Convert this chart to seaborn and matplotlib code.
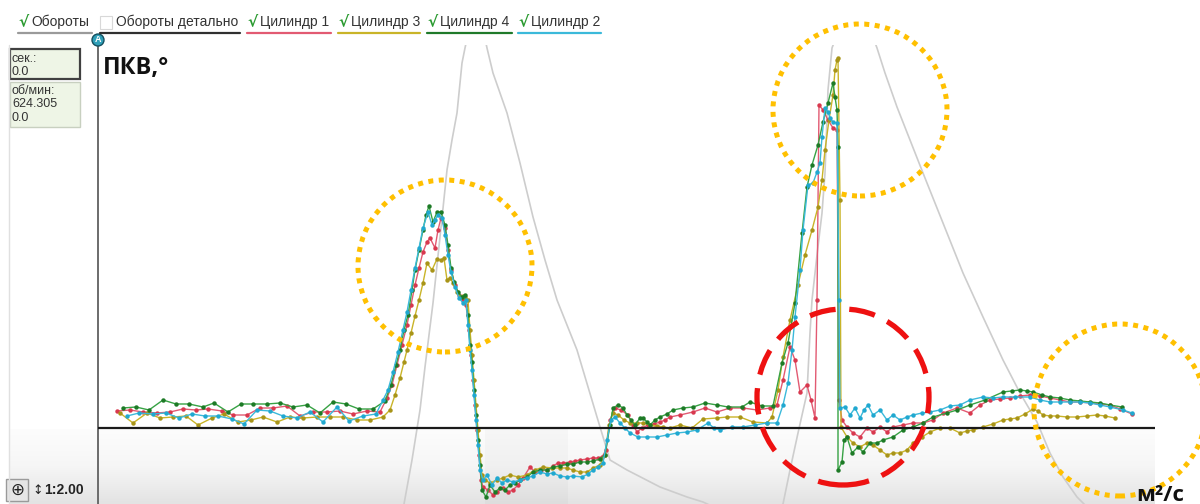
import numpy as np
import pandas as pd
import matplotlib.pyplot as plt
import seaborn as sns
from matplotlib.patches import Ellipse, Rectangle
from matplotlib.lines import Line2D
from matplotlib.colors import LinearSegmentedColormap

# ---- данные (ось X - отсчёты ПКВ, ось Y - условные единицы, 0 = базовая линия)
zel_x = [123, 136, 149, 163, 176, 189, 203, 214, 228, 241, 253, 267, 280, 293, 307, 320, 333, 346, 359, 373, 385,
         391, 396, 400, 404, 408, 412, 415, 419, 423, 426, 429, 433, 437, 441, 445, 448, 451, 454, 458, 462, 465,
         468, 470, 472, 474, 476, 478, 480, 482, 486, 490, 495, 500, 505, 510, 515, 520, 527, 533, 540, 547, 553,
         560, 567, 573, 580, 587, 593, 600, 605, 610, 613, 618, 623, 627, 631, 635, 640, 643, 647, 650, 655, 660,
         667, 673, 683, 693, 705, 717, 728, 742, 750, 762, 773, 782, 788, 795, 802, 807, 812, 818, 823, 828, 833,
         835, 837, 838, 838, 842, 844, 847, 852, 858, 863, 870, 877, 883, 893, 903, 913, 923, 933, 947, 957, 970,
         985, 1003, 1012, 1020, 1027, 1033, 1042, 1050, 1060, 1070, 1080, 1090, 1100, 1110, 1122]
zel_y = [20, 21, 18, 28, 24, 24, 21, 25, 16, 24, 24, 24, 25, 21, 23, 15, 26, 24, 19, 19, 27,
         43, 63, 78, 98, 113, 138, 158, 178, 198, 213, 222, 206, 216, 216, 203, 183, 160, 146, 136, 131, 133,
         113, 83, 66, 38, 13, -12, -37, -62, -69, -57, -64, -60, -62, -57, -55, -52, -49, -44, -42, -42, -39,
         -38, -36, -36, -34, -34, -33, -31, -27, 3, 20, 23, 20, 13, 8, 3, 10, 10, 6, 3, 8, 11,
         14, 18, 20, 21, 25, 23, 21, 21, 26, 22, 22, 65, 85, 125, 195, 241, 263, 283, 306, 325, 345,
         331, 318, 281, -42, -34, -12, -9, -25, -19, -24, -15, -15, -12, -9, -2, 1, 5, 11, 15, 18, 23,
         28, 36, 37, 38, 37, 36, 33, 31, 30, 28, 27, 26, 25, 23, 21]

kras_x = [117, 130, 143, 157, 170, 183, 196, 208, 222, 233, 247, 260, 273, 287, 300, 313, 327, 340, 353, 367, 380,
          387, 392, 397, 402, 407, 411, 415, 419, 423, 427, 430, 435, 438, 441, 445, 448, 451, 455, 459, 463, 466,
          469, 471, 473, 475, 477, 479, 481, 483, 488, 493, 497, 503, 508, 513, 518, 523, 530, 535, 541, 547, 553,
          558, 563, 570, 575, 580, 587, 593, 598, 602, 606, 610, 615, 621, 628, 633, 637, 642, 648, 654, 660, 665,
          670, 680, 693, 705, 717, 730, 743, 757, 770, 777, 783, 790, 795, 800, 807, 811, 815, 817, 819, 823, 828,
          833, 837, 839, 842, 847, 853, 860, 867, 873, 880, 887, 893, 903, 913, 923, 933, 943, 957, 970, 980, 990,
          1000, 1010, 1020, 1030, 1040, 1050, 1060, 1070, 1080, 1090, 1100, 1110, 1120, 1132]
kras_y = [17, 18, 16, 15, 16, 19, 18, 19, 17, 13, 13, 20, 20, 22, 12, 16, 16, 17, 14, 17, 16,
          30, 43, 63, 83, 103, 123, 143, 160, 176, 186, 190, 180, 198, 210, 200, 178, 158, 143, 133, 128, 123,
          98, 73, 48, 23, -2, -27, -52, -59, -62, -67, -64, -60, -64, -62, -57, -50, -39, -44, -42, -42, -38,
          -35, -35, -34, -33, -32, -31, -30, -30, -29, -22, 8, 20, 18, 13, 3, -4, 0, 3, 4, 6, 8,
          11, 13, 16, 20, 16, 20, 20, 18, 20, 23, 48, 81, 68, 36, 43, 28, 10, 128, 323, 318, 308,
          300, 298, 28, 8, 1, -5, -9, 0, -4, 1, -4, 1, 3, 5, 5, 8, 15, 20, 15, 23, 28,
          29, 30, 32, 33, 32, 30, 28, 26, 26, 25, 24, 23, 19, 14]

gol_x = [127, 139, 153, 166, 179, 192, 205, 218, 232, 244, 257, 270, 283, 297, 310, 323, 337, 349, 363, 376,
         383, 388, 393, 398, 403, 407, 411, 415, 419, 423, 428, 432, 435, 438, 442, 445, 448, 451, 455, 459, 463,
         466, 468, 470, 472, 474, 476, 478, 480, 483, 487, 492, 497, 502, 507, 513, 520, 527, 533, 540, 547, 553,
         560, 567, 573, 582, 588, 593, 598, 603, 607, 611, 615, 620, 625, 630, 638, 647, 657, 667, 677, 687, 697,
         708, 714, 720, 732, 743, 755, 767, 777, 783, 788, 792, 795, 800, 803, 808, 813, 817, 820, 822, 825, 828,
         830, 833, 837, 839, 840, 845, 850, 855, 860, 864, 868, 873, 880, 887, 893, 900, 907, 913, 922, 930, 940,
         950, 960, 970, 983, 993, 1003, 1015, 1030, 1040, 1050, 1060, 1070, 1080, 1090, 1100, 1110, 1123, 1132]
gol_y = [12, 15, 14, 15, 10, 14, 12, 12, 9, 4, 18, 17, 12, 10, 16, 6, 21, 7, 12, 14,
         28, 38, 56, 76, 98, 116, 138, 160, 180, 200, 216, 203, 208, 213, 210, 193, 173, 156, 141, 130, 125,
         128, 103, 78, 58, 33, 8, -17, -42, -52, -47, -57, -50, -55, -52, -54, -52, -50, -48, -44, -46, -45,
         -48, -49, -48, -49, -46, -42, -39, -35, -12, 8, 11, 5, 0, -5, -9, -9, -9, -7, -5, -4, -2,
         5, 0, -2, 1, 1, 3, 5, 5, 23, 45, 78, 111, 158, 198, 243, 245, 256, 265, 291, 320, 316,
         310, 306, 305, 128, 20, 21, 13, 20, 10, 18, 23, 13, 18, 8, 13, 8, 11, 13, 15, 16, 18,
         22, 23, 28, 31, 30, 31, 31, 31, 28, 26, 26, 26, 26, 25, 23, 21, 18, 15]

zhel_x = [120, 133, 147, 160, 173, 186, 198, 212, 224, 238, 251, 263, 277, 290, 303, 317, 330, 343, 357, 370, 383,
          390, 395, 400, 404, 407, 411, 415, 419, 423, 427, 432, 437, 441, 444, 447, 450, 453, 457, 460, 463, 465,
          468, 470, 472, 474, 476, 478, 480, 482, 485, 490, 497, 503, 510, 518, 527, 535, 543, 552, 560, 567, 573,
          580, 587, 593, 600, 605, 609, 613, 618, 624, 630, 637, 643, 650, 657, 663, 670, 680, 692, 703, 717, 727,
          740, 753, 767, 772, 778, 783, 790, 798, 805, 812, 818, 822, 825, 829, 833, 835, 837, 838, 840, 841, 847,
          853, 860, 867, 873, 880, 887, 893, 900, 907, 913, 922, 930, 940, 950, 960, 967, 973, 983, 993, 1003,
          1010, 1017, 1025, 1033, 1038, 1043, 1050, 1057, 1067, 1077, 1087, 1097, 1105, 1115]
zhel_y = [15, 5, 15, 10, 11, 12, 3, 10, 14, 6, 8, 11, 6, 11, 10, 11, 11, 11, 8, 8, 11,
          18, 33, 50, 66, 78, 95, 112, 128, 145, 165, 158, 169, 168, 170, 148, 150, 145, 136, 131, 132, 131,
          128, 98, 73, 48, 23, -2, -27, -47, -52, -55, -52, -50, -47, -49, -47, -42, -39, -40, -40, -40, -42,
          -44, -44, -40, -37, -27, 3, 15, 13, 8, 5, 5, 5, 3, 2, 1, 0, 3, 0, 9, 10, 11,
          11, 6, 5, 11, 38, 71, 108, 143, 173, 198, 221, 248, 278, 308, 333, 358, 368, 370, 228, 1, -9,
          -15, -19, -15, -17, -22, -27, -25, -25, -22, -15, -9, -4, 0, 0, -5, -3, -2, 1, 4, 8,
          9, 10, 14, 19, 17, 13, 12, 12, 11, 11, 12, 13, 12, 10]

# обороты (серая кривая, уходит за пределы поля)
obor_x = [380, 404, 412, 420, 425, 433, 440, 447, 452, 457, 462, 465, 476, 487, 493, 507, 520, 533, 545, 557,
          577, 597, 610, 627, 660, 687, 703, 720, 740, 783, 790, 798, 807, 810, 812, 817, 822, 825, 828, 832,
          855, 877, 885, 897, 923, 943, 963, 983, 1003, 1020, 1037, 1050, 1063, 1077, 1090]
obor_y = [-140, -76, -32, 18, 61, 125, 191, 258, 288, 315, 365, 380, 430, 380, 355, 315, 265, 211, 168, 128,
          78, 11, -32, -42, -59, -69, -74, -82, -140, -76, -42, -5, 35, 95, 128, 173, 215, 255, 338, 380,
          440, 380, 355, 321, 255, 205, 155, 111, 68, 35, 6, -25, -49, -69, -82]

cilindry = ['Цилиндр 1', 'Цилиндр 3', 'Цилиндр 4', 'Цилиндр 2']
cvet_linii = {'Цилиндр 1': '#e25a72', 'Цилиндр 3': '#c9b428', 'Цилиндр 4': '#37a244', 'Цилиндр 2': '#3bb9da'}
cvet_tochek = {'Цилиндр 1': '#d8384e', 'Цилиндр 3': '#a89418', 'Цилиндр 4': '#1d7a26', 'Цилиндр 2': '#20a8d0'}

tablica = pd.concat([
    pd.DataFrame({'x': kras_x, 'y': kras_y, 'cyl': 'Цилиндр 1'}),
    pd.DataFrame({'x': zhel_x, 'y': zhel_y, 'cyl': 'Цилиндр 3'}),
    pd.DataFrame({'x': zel_x, 'y': zel_y, 'cyl': 'Цилиндр 4'}),
    pd.DataFrame({'x': gol_x, 'y': gol_y, 'cyl': 'Цилиндр 2'}),
], ignore_index=True)
obor = pd.DataFrame({'x': obor_x, 'y': obor_y})

sns.set_theme(style="white")
plt.rcParams['font.family'] = ['Liberation Sans', 'DejaVu Sans']

W, H = 1200, 504
fig = plt.figure(figsize=(12, 5.04), dpi=100)
ax = fig.add_axes([98 / W, 0, 1057 / W, 459 / H])


def fx(x):
    return x / W


def fy(y):
    return 1 - y / H


# фон под нулевой линией: светлый сверху, серее книзу
seryi = LinearSegmentedColormap.from_list('seryi', ['#fdfdfd', '#f6f6f6', '#e3e3e3'])
grad = np.linspace(0, 1, 100).reshape(-1, 1)
ax.imshow(grad, extent=[98, 1155, -76, 0], origin='upper', cmap=seryi, aspect='auto', zorder=0)
ax.add_patch(Rectangle((485, -76), 83, 76, color='black', alpha=0.025, lw=0, zorder=0.5))

sns.lineplot(data=obor, x='x', y='y', ax=ax, color='#cdcdcd', lw=1.2, sort=False, estimator=None)
sns.lineplot(data=tablica, x='x', y='y', hue='cyl', hue_order=cilindry, palette=cvet_linii, ax=ax,
             estimator=None, sort=False, marker='o', markersize=3.2, markeredgewidth=0, lw=1.0, legend=False)
for line, name in zip(ax.lines[1:], cilindry):
    line.set_markerfacecolor(cvet_tochek[name])
    line.set_markeredgecolor(cvet_tochek[name])

ax.axhline(0, color='#1a1a1a', lw=1.6, zorder=3)
ax.set_xlim(98, 1155)
ax.set_ylim(-76, 383)
ax.set_xlabel('')
ax.set_ylabel('')
ax.set_xticks([])
ax.set_yticks([])
for s in ['top', 'right', 'bottom']:
    ax.spines[s].set_visible(False)
ax.spines['left'].set_color('#606060')
ax.spines['left'].set_linewidth(1.3)
ax.set_facecolor('white')

# пометки: кружки
for cx, cy, w, h in [(445, 162, 174, 172), (860, 318, 174, 172), (1120, 18, 172, 172)]:
    ax.add_patch(Ellipse((cx, cy), w, h, fill=False, ec='#ffc000', lw=3.6,
                         ls=(0, (1, 1.1)), clip_on=False, zorder=5))
ax.add_patch(Ellipse((843, 31), 172, 176, fill=False, ec='#ee1111', lw=3.8,
                     ls=(0, (5, 2.6)), clip_on=False, zorder=5))

# подписи осей
fig.text(fx(103), fy(68), 'ПКВ,°', fontsize=17, fontweight='bold', family=['Open Sans', 'DejaVu Sans'],
         va='center', ha='left', color='#111111')
fig.text(fx(1136), fy(501), 'м²/с', fontsize=16, fontweight='bold', family=['Open Sans', 'DejaVu Sans'],
         va='baseline', ha='left', color='#111111')

# строка легенды
legenda = [('Обороты', True, '#9a9a9a', 18, 92),
           ('Обороты детально', False, '#303030', 100, 240),
           ('Цилиндр 1', True, cvet_linii['Цилиндр 1'], 247, 331),
           ('Цилиндр 3', True, cvet_linii['Цилиндр 3'], 338, 420),
           ('Цилиндр 4', True, '#1f7a2a', 427, 512),
           ('Цилиндр 2', True, cvet_linii['Цилиндр 2'], 518, 601)]
for text, checked, c, x0, x1 in legenda:
    if checked:
        fig.text(fx(x0), fy(22), '√', color='#2a9a30', fontsize=11, fontweight='bold',
                 family=['DejaVu Sans'], va='center')
        tx = x0 + 13
    else:
        fig.add_artist(Rectangle((fx(x0), fy(29)), 12 / W, 13 / H, fill=False, ec='#d8d8d8', lw=0.8))
        tx = x0 + 16
    fig.text(fx(tx), fy(22), text, fontsize=10, color='#333333', va='center')
    fig.add_artist(Line2D([fx(x0), fx(x1)], [fy(33), fy(33)], color=c, lw=1.6))

# маркер "A"
fig.add_artist(Ellipse((fx(98), fy(40)), 12 / W, 12 / H, fc='#2f9fb8', ec='#145060', lw=1))
fig.text(fx(98), fy(40), 'A', color='white', fontsize=6.5, fontweight='bold', ha='center', va='center')

# левая панель
fig.add_artist(Line2D([fx(9), fx(9)], [0, fy(45)], color='#e0e0e0', lw=1))
pan = fig.add_axes([10 / W, 0, 87 / W, 75 / H])
pan.imshow(grad, cmap=seryi, aspect='auto', origin='upper')
pan.axis('off')
fig.add_artist(Rectangle((fx(10), fy(79)), 70 / W, 30 / H, fc='#eef5e6', ec='#404040', lw=1.6))
fig.add_artist(Rectangle((fx(10), fy(127)), 70 / W, 45 / H, fc='#eef5e6', ec='#c8d0c0', lw=1))
fig.text(fx(12), fy(59), 'сек.:', fontsize=9, color='#333333', va='center')
fig.text(fx(12), fy(72), '0.0', fontsize=9, color='#333333', va='center')
fig.text(fx(12), fy(91), 'об/мин:', fontsize=9, color='#333333', va='center')
fig.text(fx(12), fy(104), '624.305', fontsize=9, color='#333333', va='center')
fig.text(fx(12), fy(118), '0.0', fontsize=9, color='#333333', va='center')

# кнопки внизу слева
fig.add_artist(Rectangle((fx(6), fy(501)), 22 / W, 22 / H, fc='#e6e6e6', ec='#9a9a9a', lw=1))
fig.text(fx(17), fy(490), '⊕', fontsize=12, color='#222222', ha='center', va='center', family=['DejaVu Sans'])
fig.text(fx(32), fy(490), '↕', fontsize=9, color='#222222', ha='left', va='center', family=['DejaVu Sans'])
fig.text(fx(44), fy(490), '1:2.00', fontsize=10, fontweight='bold', color='#222222', va='center')

fig.savefig('out.png', dpi=100)
